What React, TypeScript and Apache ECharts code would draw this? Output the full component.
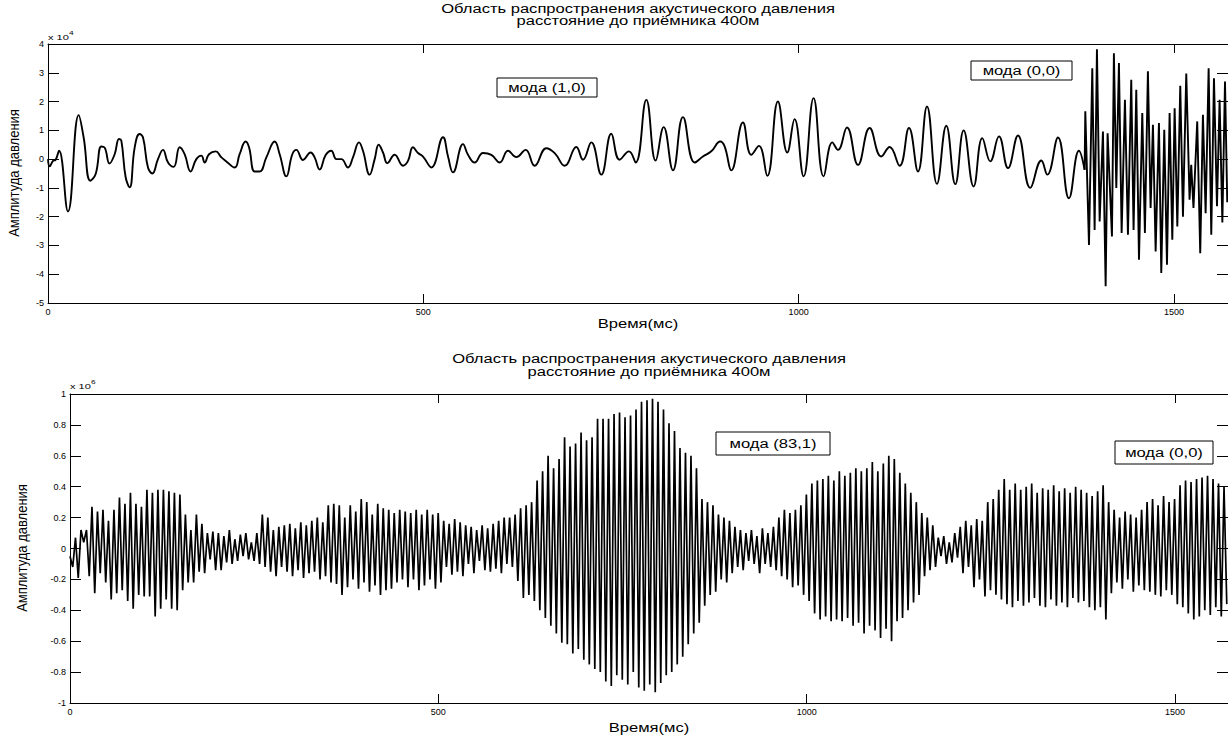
import React, { useEffect, useRef } from "react";
import * as echarts from "echarts";

// ---------- axes ----------
const xTicks = [0, 500, 1000, 1500];
const xMax = 1572;

// ---------- top panel (values in units of 10^4), [time ms, amplitude] ----------
const topEarly: [number, number][] = [
  [0, 0], [2.2, -0.25], [6.7, -0.06], [10, -0.03], [14.7, 0.29], [26.6, -1.82], [40.9, 1.53], [47.5, 0.75],
  [56.4, -0.75], [63.5, -0.52], [71, 0.44], [75.5, 0.4], [82, -0.15], [88.8, 0.17], [94.6, 0.7], [97.7, 0.64],
  [103.5, -0.64], [108.8, -0.98], [115.5, 0.41], [122, 0.87], [126.6, 0.75], [133.2, -0.29], [139, -0.5],
  [146.5, 0], [153.2, 0.32], [159.9, -0.12], [167.4, -0.27], [175.4, 0.41], [182, 0.17], [190, -0.43],
  [197.6, 0], [204.3, 0.12], [208.7, -0.12], [214.5, 0.17], [223.4, 0.27], [231, 0.06], [237.6, -0.08],
  [248.7, -0.29], [255.3, 0.17], [263.3, 0.61], [267.8, 0.41], [275.3, -0.43], [282, -0.43], [290.9, 0.06],
  [302, 0.61], [308.6, 0.17], [317.5, -0.6], [325.5, 0.17], [330.8, 0.32], [339.7, -0.03], [349.9, 0.23],
  [355.2, 0.06], [361.9, -0.36], [369.9, 0.14], [377.4, 0.29], [384.1, 0], [390.8, 0], [399.6, -0.29],
  [406.3, 0.06], [414.3, 0.58], [419.6, 0.29], [428.5, -0.54], [435.2, 0], [440.5, 0.5], [446.3, 0.23],
  [452, -0.14], [461.8, 0.15], [472.9, -0.23], [479.6, -0.06], [486.2, 0.41], [493, 0.21], [499.6, 0.09],
];
const topMiddle: [number, number][] = [
  [510.7, -0.29], [526.2, 0.76], [532.9, 0.09], [539.5, -0.46], [552.9, 0.52], [559.5, 0.15], [568.4, -0.12],
  [579.5, 0.21], [590.6, 0.15], [601.7, -0.12], [612.8, 0.29], [623.9, 0.07], [636.3, 0.32], [648.3, -0.23],
  [663.9, 0.38], [675, 0.21], [688.3, -0.23], [703.8, 0.42], [712.7, -0.02], [723.8, 0.58], [737.1, -0.54],
  [750.4, 0.88], [761.5, -0.02], [774, 0.27], [782.9, -0.12], [797.1, 2.06], [809.5, -0.05], [820.2, 1.11],
  [832.6, -0.39], [845.9, 1.46], [861.5, -0.12], [872.5, 0.09], [883.6, 0.27], [895.6, 0.61], [901.4, 0.44],
  [910.3, -0.39], [925.8, 1.27], [936.9, 0.15], [947.1, 0.46], [958.2, -0.58], [972.4, 2.0], [984.9, 0.23],
  [994.6, 1.39], [1006.6, -0.6], [1019.9, 2.12], [1033.3, -0.6],
];
const topLate: [number, number][] = [
  [1044.9, 0.58], [1052.4, 0.32], [1064.4, 1.1], [1079.1, -0.2], [1094.6, 1.08], [1110.1, 0.09], [1121.2, 0.42],
  [1134.6, -0.23], [1147, 1.08], [1159, -0.43], [1171, 1.83], [1184.3, -0.86], [1196.7, 1.16], [1208.7, -0.87],
  [1219.8, 1.0], [1233.1, -0.95], [1244.7, 0.73], [1255.3, -0.08], [1266.9, 0.79], [1278.9, -0.31],
  [1292.2, 0.82], [1308.6, -1.0], [1323.3, -0.05], [1331.3, -0.54], [1345.5, 0.75], [1360.1, -1.36],
  [1373.4, 0.29], [1381, -0.37],
];
const topBurst: [number, number][] = [
  [1381.9, 1.66], [1386.8, -2.98], [1391.2, 3.16], [1394.3, -2.46], [1397.4, 3.82], [1401, -2.17], [1405.4, 0.96],
  [1409, -4.42], [1411.6, 0.9], [1417.4, -2.69], [1420, 3.68], [1423.2, -1.0], [1426.7, 3.34], [1430.3, -2.57],
  [1434.7, 2.06], [1438.7, -2.63], [1443.1, 2.76], [1446.2, -2.46], [1449.8, 2.41], [1453.4, -3.5], [1457.8, 1.6],
  [1461.3, -2.57], [1465.3, 3.05], [1468.9, -1.7], [1472, 1.19], [1475.6, -3.21], [1480, 1.25], [1483.1, -3.96],
  [1487.1, 1.02], [1490.7, -3.67], [1494.2, 1.6], [1497.8, -2.8], [1500.9, 1.77], [1504.5, -2.34], [1508.4, 2.55],
  [1512, -2.0], [1516.4, 2.97], [1520.8, -1.41], [1523, -0.2], [1526, -1.7], [1531, 1.31], [1535, -3.27],
  [1538.6, 1.54], [1542.2, -1.88], [1546.2, 3.16], [1549.7, -2.63], [1553.3, 2.81], [1557.3, -1.64],
  [1560.8, 2.06], [1564.5, -2.2], [1568, 2.7], [1571, -1.5],
];

// ---------- bottom panel (values in units of 10^6), one extreme every bottomStepMs ----------
const bottomStepMs = 3.73;
const bottomA = [
  -0.05, -0.12, 0.07, -0.19, 0.12, 0.04, 0.12, -0.18, 0.27, -0.29,
  0.24, -0.16, 0.25, -0.22, 0.18, -0.33, 0.25, -0.29, 0.33, -0.27,
  0.29, -0.34, 0.36, -0.39, 0.29, -0.3, 0.27, -0.31, 0.38, -0.31,
  0.36, -0.44, 0.38, -0.39, 0.38, -0.33, 0.37, -0.39, 0.36, -0.4,
  0.35, -0.27, 0.22, -0.22, 0.12, -0.22, 0.22, -0.15, 0.16, -0.16,
  0.1, -0.07, 0.11, -0.14, 0.1, -0.14, 0.08, -0.09, 0.12, -0.1,
  0.06, -0.08, 0.09, -0.05, 0.1, -0.07, 0.04, -0.08, 0.1, -0.1,
];
const bottomB = [
  0.22, -0.12, 0.2, -0.15, 0.12, -0.18, 0.14, -0.12, 0.15, -0.15,
  0.16, -0.18, 0.13, -0.14, 0.17, -0.19, 0.15, -0.16, 0.18, -0.15,
  0.2, -0.2, 0.17, -0.18, 0.28, -0.22, 0.29, -0.23, 0.28, -0.3,
  0.2, -0.25, 0.28, -0.2, 0.24, -0.26, 0.32, -0.22, 0.3, -0.28,
  0.22, -0.24, 0.29, -0.3, 0.26, -0.27, 0.25, -0.26, 0.23, -0.22,
  0.25, -0.2, 0.24, -0.25, 0.23, -0.2, 0.25, -0.27, 0.22, -0.24,
  0.25, -0.2, 0.22, -0.26, 0.23, -0.22,
];
const bottomC = [
  0.18, -0.12, 0.16, -0.17, 0.19, -0.15, 0.17, -0.18, 0.15, -0.1,
  0.14, -0.16, 0.12, -0.08, 0.15, -0.14, 0.13, -0.15, 0.16, -0.13,
  0.18, -0.16, 0.2, -0.1, 0.2, -0.12, 0.22, -0.21, 0.26, -0.32,
  0.28, -0.3, 0.3, -0.34, 0.44, -0.4, 0.5, -0.45, 0.6, -0.5,
  0.52, -0.55, 0.58, -0.61, 0.72, -0.62, 0.66, -0.68, 0.68, -0.65,
  0.75, -0.72, 0.7, -0.75, 0.72, -0.78, 0.84, -0.8, 0.84, -0.86,
  0.84, -0.89, 0.87, -0.82, 0.88, -0.85, 0.85, -0.88, 0.86, -0.8,
  0.9, -0.9, 0.95, -0.92, 0.96, -0.88, 0.97, -0.93, 0.95, -0.87,
  0.9, -0.82, 0.81, -0.8, 0.76, -0.75, 0.65, -0.7, 0.62, -0.62,
  0.6, -0.55, 0.52, -0.48,
];
const bottomD = [
  0.32, -0.37, 0.3, -0.3, 0.28, -0.28, 0.22, -0.2, 0.2, -0.22,
  0.18, -0.16, 0.14, -0.12, 0.12, -0.14, 0.1, -0.08, 0.12, -0.1,
  0.08, -0.16, 0.13, -0.1, 0.1, -0.12, 0.14, -0.14, 0.2, -0.18,
  0.25, -0.2, 0.23, -0.25, 0.25, -0.24, 0.28, -0.3, 0.35, -0.34,
  0.42, -0.42, 0.44, -0.46, 0.45, -0.44, 0.47, -0.47, 0.44, -0.46,
  0.5, -0.47, 0.47, -0.45, 0.49, -0.5, 0.52, -0.48, 0.5, -0.55,
  0.52, -0.5, 0.56, -0.53, 0.5, -0.58, 0.55, -0.52, 0.6, -0.6,
  0.58, -0.47, 0.49, -0.45, 0.42, -0.4, 0.36, -0.35, 0.3, -0.3,
  0.23, -0.18, 0.2, -0.14, 0.15, -0.12, 0.07, -0.05, 0.08, -0.1,
  0.04, -0.09, 0.1, -0.06, 0.14, -0.16, 0.18, -0.12, 0.15, -0.25,
];
const bottomE = [
  0.19, -0.2, 0.18, -0.31, 0.3, -0.27, 0.32, -0.3, 0.38, -0.33,
  0.45, -0.36, 0.38, -0.38, 0.42, -0.34, 0.38, -0.37, 0.4, -0.35,
  0.42, -0.32, 0.36, -0.37, 0.39, -0.38, 0.38, -0.33, 0.41, -0.37,
  0.37, -0.35, 0.39, -0.38, 0.36, -0.32, 0.4, -0.35, 0.38, -0.34,
  0.36, -0.38, 0.34, -0.4, 0.37, -0.38, 0.41, -0.46, 0.3, -0.29,
  0.25, -0.22, 0.2, -0.26, 0.24, -0.2, 0.22, -0.28, 0.2, -0.24,
  0.25, -0.27, 0.3, -0.28, 0.32, -0.3, 0.28, -0.31, 0.34, -0.27,
  0.3, -0.3, 0.32, -0.36, 0.41, -0.38, 0.44, -0.42, 0.43, -0.46,
  0.45, -0.44, 0.46, -0.4, 0.47, -0.43, 0.45, -0.38, 0.42, -0.44,
  0.4, -0.36,
];

// ---------- texts ----------
const titleLine1 = "Область распространения акустического давления";
const titleLine2 = "расстояние до приёмника 400м";
const xLabel = "Время(мс)";
const yLabel = "Амплитуда давления";
const topExp = "4";
const bottomExp = "6";
const topNotes = ["мода (1,0)", "мода (0,0)"];
const bottomNotes = ["мода (83,1)", "мода (0,0)"];

const FONT = '"Liberation Sans", Arial, Helvetica, sans-serif';
const STRETCH = 1.38;

function txt(text: string, x: number, y: number, size: number, opts: any = {}) {
  const align = opts.align || "center";
  return {
    type: "text",
    x,
    y,
    scaleX: opts.scaleX ?? STRETCH,
    scaleY: opts.scaleY ?? 1,
    rotation: opts.rotation || 0,
    z: 20,
    style: {
      text,
      x: 0,
      y: 0,
      fontSize: size,
      fontFamily: FONT,
      fill: "#000",
      align,
      verticalAlign: "middle",
      textAlign: align,
      textVerticalAlign: "middle",
    },
  };
}

function noteBox(text: string, x: number, y: number, w: number, h: number) {
  return [
    {
      type: "rect",
      z: 19,
      shape: { x, y, width: w, height: h },
      style: { fill: "#fff", stroke: "#000", lineWidth: 1 },
    },
    txt(text, x + w / 2, y + h / 2 + 0.5, 12),
  ];
}

function xAxes(gridIndex: number) {
  const common = {
    gridIndex,
    type: "value",
    min: 0,
    max: xMax,
    splitLine: { show: false },
    axisLine: { show: true, onZero: false, lineStyle: { color: "#000", width: 1 } },
    axisTick: { show: true, inside: true, length: 9, customValues: xTicks, lineStyle: { color: "#000", width: 1 } },
  };
  return [
    {
      ...common,
      position: "bottom",
      axisLabel: {
        show: true,
        customValues: xTicks,
        fontSize: 9,
        color: "#000",
        fontFamily: FONT,
        margin: 4,
        formatter: (v: number) => String(v),
      },
    },
    { ...common, position: "top", axisLabel: { show: false } },
  ];
}

function yAxes(gridIndex: number, min: number, max: number, interval: number) {
  const common = {
    gridIndex,
    type: "value",
    min,
    max,
    interval,
    splitLine: { show: false },
    axisLine: { show: true, onZero: false, lineStyle: { color: "#000", width: 1 } },
    axisTick: { show: true, inside: true, length: 11, lineStyle: { color: "#000", width: 1 } },
  };
  return [
    {
      ...common,
      position: "left",
      axisLabel: {
        show: true,
        fontSize: 9,
        color: "#000",
        fontFamily: FONT,
        margin: 4,
        formatter: (v: number) => String(Math.round(v * 10) / 10),
      },
    },
    { ...common, position: "right", axisLabel: { show: false } },
  ];
}

export default function App() {
  const ref = useRef<HTMLDivElement>(null);

  useEffect(() => {
    if (!ref.current) return;
    const chart = echarts.init(ref.current, null, { renderer: "svg" });

    const topSmooth = [...topEarly, ...topMiddle, ...topLate];
    const topDense = [topLate[topLate.length - 1], ...topBurst];
    const bottomValues = [...bottomA, ...bottomB, ...bottomC, ...bottomD, ...bottomE];
    const bottomData = bottomValues.map((v, i) => [i * bottomStepMs, v]);

    const lineCommon = {
      type: "line",
      showSymbol: false,
      symbol: "none",
      silent: true,
      clip: true,
    };

    const graphic: any[] = [
      // top panel texts
      txt(titleLine1, 638, 9, 12),
      txt(titleLine2, 638, 21, 12),
      txt(xLabel, 638, 324, 12),
      txt(yLabel, 14, 173, 13, { rotation: Math.PI / 2, scaleX: 1, scaleY: 1.1 }),
      txt("x 10", 48, 37, 8, { align: "left" }),
      txt(topExp, 69, 33, 6, { align: "left" }),
      ...noteBox(topNotes[0], 497, 78, 100, 19),
      ...noteBox(topNotes[1], 971, 61, 101, 19),
      // bottom panel texts
      txt(titleLine1, 649, 359, 12),
      txt(titleLine2, 649, 372, 12),
      txt(xLabel, 649, 728, 12),
      txt(yLabel, 22, 548, 13, { rotation: Math.PI / 2, scaleX: 1, scaleY: 1.1 }),
      txt("x 10", 70, 386, 8, { align: "left" }),
      txt(bottomExp, 91, 382, 6, { align: "left" }),
      ...noteBox(bottomNotes[0], 716, 432, 114, 23),
      ...noteBox(bottomNotes[1], 1115, 441, 98, 23),
    ];

    chart.setOption({
      animation: false,
      backgroundColor: "#fff",
      grid: [
        { left: 48, top: 44, width: 1180, height: 259, containLabel: false },
        { left: 70, top: 394, width: 1158, height: 309, containLabel: false },
      ],
      xAxis: [...xAxes(0), ...xAxes(1)],
      yAxis: [...yAxes(0, -5, 4, 1), ...yAxes(1, -1, 1, 0.2)],
      series: [
        {
          ...lineCommon,
          name: "top",
          xAxisIndex: 0,
          yAxisIndex: 0,
          data: topSmooth,
          smooth: 0.45,
          lineStyle: { color: "#000", width: 1.9 },
        },
        {
          ...lineCommon,
          name: "topBurst",
          xAxisIndex: 0,
          yAxisIndex: 0,
          data: topDense,
          smooth: false,
          lineStyle: { color: "#000", width: 1.9 },
        },
        {
          ...lineCommon,
          name: "bottom",
          xAxisIndex: 2,
          yAxisIndex: 2,
          data: bottomData,
          smooth: false,
          lineStyle: { color: "#000", width: 1.7 },
        },
      ],
      graphic,
    });

    return () => chart.dispose();
  }, []);

  return (
    <div
      ref={ref}
      style={{ position: "fixed", left: 0, top: 0, width: 1228, height: 736, background: "#fff" }}
    />
  );
}
